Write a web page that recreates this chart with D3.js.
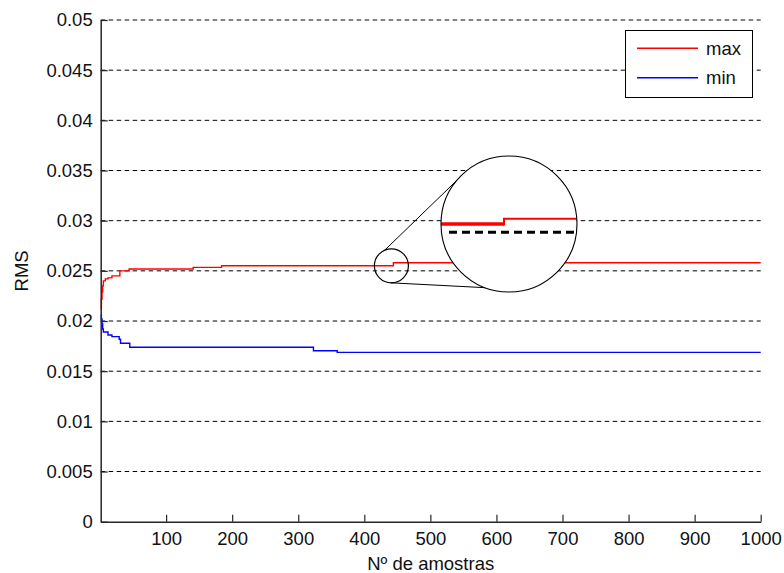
<!DOCTYPE html>
<html>
<head>
<meta charset="utf-8">
<script src="https://cdn.jsdelivr.net/npm/d3@7"></script>
<style>
  html, body { margin: 0; padding: 0; background: #fff; }
  svg { display: block; font-family: "Liberation Sans", Arial, sans-serif; }
</style>
</head>
<body>
<svg id="chart" width="784" height="573"></svg>
<script>
// ---- data ----
const maxN   = [1, 2, 3, 4, 5, 8, 12, 18, 30, 44, 141, 184, 444, 1000];
const maxRMS = [0.0212, 0.0222, 0.0229, 0.0235, 0.0240, 0.0242, 0.0243, 0.0245, 0.0250, 0.02518, 0.02535, 0.02551, 0.02581, 0.02581];
const minN   = [1, 2, 3, 4, 5, 12, 18, 29, 31, 45, 323, 359, 1000];
const minRMS = [0.0206, 0.0202, 0.0197, 0.0192, 0.0189, 0.01860, 0.01844, 0.01818, 0.01778, 0.01738, 0.01704, 0.01688, 0.01688];
const xTicks = [100, 200, 300, 400, 500, 600, 700, 800, 900, 1000];
const xTickLabels = ["100", "200", "300", "400", "500", "600", "700", "800", "900", "1000"];
const yTicks = [0, 0.005, 0.01, 0.015, 0.02, 0.025, 0.03, 0.035, 0.04, 0.045, 0.05];
const yTickLabels = ["0", "0.005", "0.01", "0.015", "0.02", "0.025", "0.03", "0.035", "0.04", "0.045", "0.05"];
const seriesNames = ["max", "min"];
const seriesColors = ["#ff0000", "#0000ff"];
// magnifier annotation (data coordinates of the two circle centres)
const zoomSmall = { n: 441, v: 0.0255 };
const zoomBig   = { n: 619, v: 0.02967 };

(function () {
// ---- layout ----
const svg = d3.select("#chart");
const pLeft = 100.7, pRight = 760.7, pTop = 20, pBottom = 521.7;
const FS = 18.5;
const x = d3.scaleLinear().domain([1, 1000]).range([pLeft, pRight]);
const y = d3.scaleLinear().domain([0, 0.05]).range([pBottom, pTop]);

// grid
svg.append("g").selectAll("line")
  .data(yTicks.filter(d => d > 0))
  .join("line")
  .attr("x1", pLeft).attr("x2", pRight)
  .attr("y1", d => y(d)).attr("y2", d => y(d))
  .attr("stroke", "#000").attr("stroke-width", 1)
  .attr("stroke-dasharray", "4.5,3.5");

// series
const line = d3.line().x(d => x(d[0])).y(d => y(d[1])).curve(d3.curveStepAfter);
const series = [d3.zip(maxN, maxRMS), d3.zip(minN, minRMS)];
svg.append("g").selectAll("path")
  .data(series)
  .join("path")
  .attr("d", line)
  .attr("fill", "none")
  .attr("stroke", (d, i) => seriesColors[i])
  .attr("stroke-width", 1.4);

// axes
const axisColor = "#262626";
const gx = svg.append("g").attr("transform", `translate(0,${pBottom})`)
  .call(d3.axisBottom(x).tickValues(xTicks).tickFormat((d, i) => xTickLabels[i])
    .tickSizeInner(-7).tickSizeOuter(0).tickPadding(10));
const gy = svg.append("g").attr("transform", `translate(${pLeft},0)`)
  .call(d3.axisLeft(y).tickValues(yTicks).tickFormat((d, i) => yTickLabels[i])
    .tickSizeInner(-7).tickSizeOuter(0).tickPadding(8));
[gx, gy].forEach(g => {
  g.select(".domain").attr("stroke", axisColor).attr("stroke-width", 1.5);
  g.selectAll(".tick line").attr("stroke", axisColor).attr("stroke-width", 1.2);
  g.selectAll(".tick text").attr("fill", "#111").style("font-size", FS + "px")
    .style("font-family", '"Liberation Sans", Arial, sans-serif');
});

// axis titles
svg.append("text")
  .attr("x", (pLeft + pRight) / 2).attr("y", 570)
  .attr("text-anchor", "middle").attr("fill", "#111")
  .style("font-size", FS + "px")
  .text("Nº de amostras");
svg.append("text")
  .attr("transform", `translate(28,${(pTop + pBottom) / 2}) rotate(-90)`)
  .attr("text-anchor", "middle").attr("fill", "#111")
  .style("font-size", FS + "px")
  .text("RMS");

// ---- magnifier annotation ----
const sc = { x: x(zoomSmall.n), y: y(zoomSmall.v) }, sr = 17;
const bc = { x: x(zoomBig.n), y: y(zoomBig.v) }, br = 68;
const ann = svg.append("g");
const pt = (c, r, deg) => [c.x + r * Math.cos(deg * Math.PI / 180), c.y + r * Math.sin(deg * Math.PI / 180)];
const conn = [[pt(sc, sr, -113), pt(bc, br, -128)], [pt(sc, sr, 92), pt(bc, br, 110.5)]];
ann.selectAll("line.conn").data(conn).join("line")
  .attr("x1", d => d[0][0]).attr("y1", d => d[0][1])
  .attr("x2", d => d[1][0]).attr("y2", d => d[1][1])
  .attr("stroke", "#000").attr("stroke-width", 1);
svg.append("defs").append("clipPath").attr("id", "bigclip")
  .append("circle").attr("cx", bc.x).attr("cy", bc.y).attr("r", br);
ann.append("circle").attr("cx", bc.x).attr("cy", bc.y).attr("r", br)
  .attr("fill", "#fff").attr("stroke", "none");
const inside = ann.append("g").attr("clip-path", "url(#bigclip)");
inside.append("path")
  .attr("d", `M${bc.x - br},${bc.y}H${bc.x - 5}`)
  .attr("stroke", "#ff0000").attr("stroke-width", 3.5).attr("fill", "none");
inside.append("path")
  .attr("d", `M${bc.x - 5},${bc.y + 1.5}V${bc.y - 5.3}H${bc.x + br}`)
  .attr("stroke", "#ff0000").attr("stroke-width", 2).attr("fill", "none");
inside.append("line")
  .attr("x1", bc.x - 60).attr("x2", bc.x + br)
  .attr("y1", bc.y + 8.3).attr("y2", bc.y + 8.3)
  .attr("stroke", "#000").attr("stroke-width", 3).attr("stroke-dasharray", "8,5");
ann.append("circle").attr("cx", bc.x).attr("cy", bc.y).attr("r", br)
  .attr("fill", "none").attr("stroke", "#000").attr("stroke-width", 1.1);
ann.append("circle").attr("cx", sc.x).attr("cy", sc.y).attr("r", sr)
  .attr("fill", "none").attr("stroke", "#000").attr("stroke-width", 1.2);

// ---- legend ----
const lg = svg.append("g");
lg.append("rect").attr("x", 625.5).attr("y", 30.5).attr("width", 127).attr("height", 67)
  .attr("fill", "#fff").attr("stroke", "#000").attr("stroke-width", 1);
const legY = [48.3, 77.7];
seriesNames.forEach((name, i) => {
  lg.append("line").attr("x1", 637).attr("x2", 698).attr("y1", legY[i]).attr("y2", legY[i])
    .attr("stroke", seriesColors[i]).attr("stroke-width", 1.4);
  lg.append("text").attr("x", 706).attr("y", legY[i] + 6.5)
    .attr("fill", "#111").style("font-size", FS + "px").text(name);
});
})();
</script>
</body>
</html>
